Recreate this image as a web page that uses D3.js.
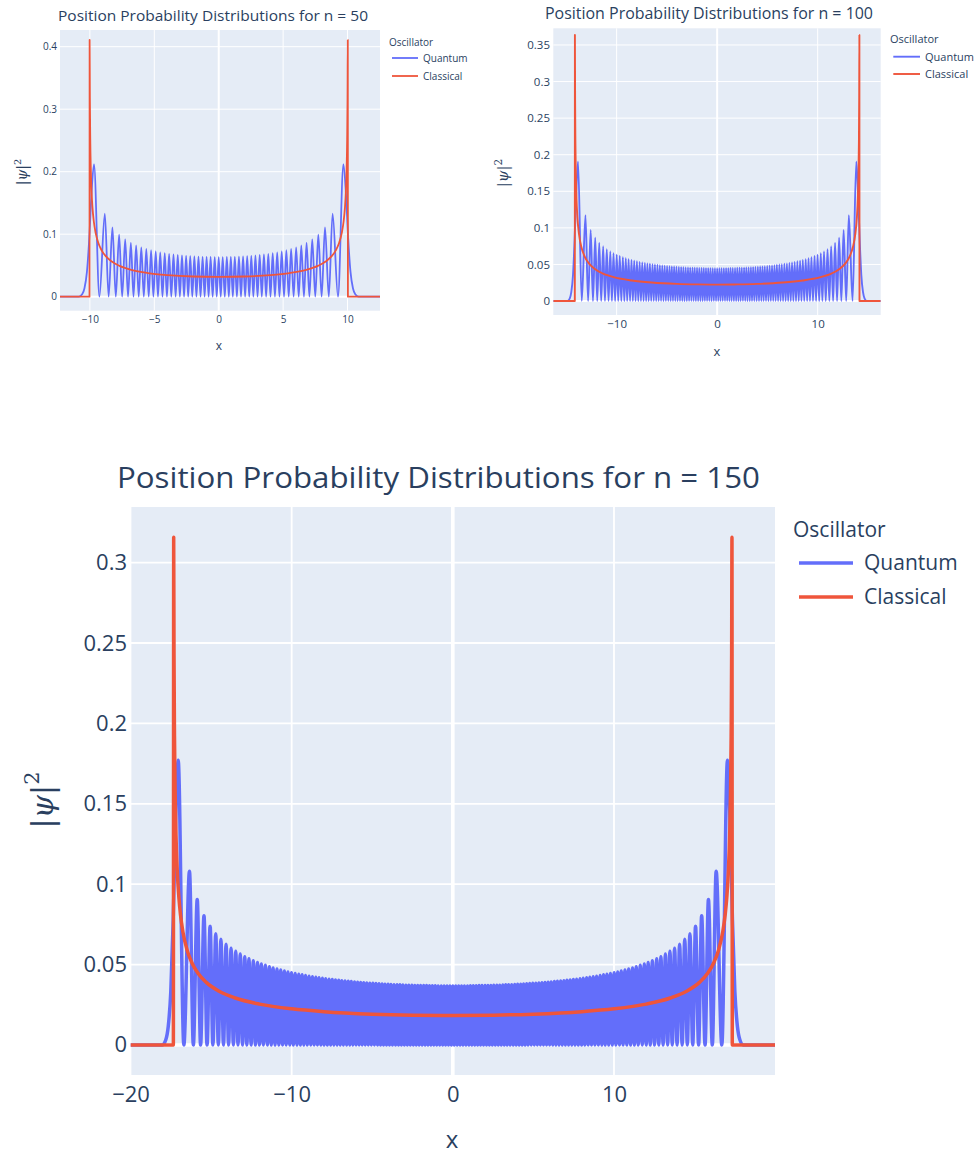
<!DOCTYPE html>
<html><head><meta charset="utf-8">
<script src="https://cdn.jsdelivr.net/npm/d3@7"></script>
<style>
body{margin:0;background:#fff}
svg{display:block}
text{font-family:"Open Sans",sans-serif;fill:#2a3f5f}
</style>
</head><body>
<svg id="chart" width="976" height="1156"></svg>
<script>
// ---------------- DATA ----------------
const seriesNames = ["Quantum", "Classical"];
const legendTitle = "Oscillator";
const titles = ["Position Probability Distributions for n = 50",
                "Position Probability Distributions for n = 100",
                "Position Probability Distributions for n = 150"];

// axis ranges and ticks
const xRange50 = [-12.32, 12.52], yRange50 = [-0.0224, 0.4267];
const xRange100 = [-16.3, 16.27], yRange100 = [-0.0191, 0.3728];
const xRange150 = [-20, 19.99], yRange150 = [-0.0187, 0.3346];
const xTicks50 = [-10, -5, 0, 5, 10];
const yTicks50 = [0, 0.1, 0.2, 0.3, 0.4];
const xTicks100 = [-10, 0, 10];
const yTicks100 = [0, 0.05, 0.1, 0.15, 0.2, 0.25, 0.3, 0.35];
const xTicks150 = [-20, -10, 0, 10];
const yTicks150 = [0, 0.05, 0.1, 0.15, 0.2, 0.25, 0.3];

// Quantum |psi|^2 : peak positions / heights (centre outwards, right half; mirror-symmetric)
const q50PeakX = [0, 0.31, 0.63, 0.94, 1.25, 1.57, 1.89, 2.21, 2.53, 2.85, 3.18, 3.51, 3.85, 4.19, 4.54, 4.89, 5.25, 5.62, 6.01, 6.41, 6.82, 7.26, 7.73, 8.25, 8.84, 9.68];
const q50PeakY = [0.0633, 0.0634, 0.0635, 0.0636, 0.0638, 0.0641, 0.0645, 0.0649, 0.0654, 0.0661, 0.0668, 0.0676, 0.0686, 0.0697, 0.0710, 0.0725, 0.0743, 0.0764, 0.0790, 0.0822, 0.0863, 0.0916, 0.0992, 0.1109, 0.1330, 0.2118];
const q50TailX = [9.87, 10.05, 10.23, 10.42, 10.60, 10.86];
const q50TailY = [0.1669, 0.0929, 0.0396, 0.0135, 0.0038, 0];

const q100PeakX = [0, 0.22, 0.44, 0.67, 0.89, 1.11, 1.33, 1.55, 1.78, 2.00, 2.23, 2.45, 2.68, 2.90, 3.13, 3.36, 3.58, 3.81, 4.05, 4.28, 4.51, 4.74, 4.98, 5.22, 5.46, 5.70, 5.94, 6.19, 6.43, 6.69, 6.94, 7.19, 7.45, 7.71, 7.98, 8.25, 8.52, 8.81, 9.09, 9.38, 9.69, 9.99, 10.31, 10.63, 10.98, 11.34, 11.73, 12.13, 12.58, 13.10, 13.84];
const q100PeakY = [0.0449, 0.0449, 0.0449, 0.0450, 0.0450, 0.0450, 0.0451, 0.0452, 0.0453, 0.0454, 0.0455, 0.0456, 0.0457, 0.0459, 0.0460, 0.0462, 0.0464, 0.0466, 0.0469, 0.0471, 0.0474, 0.0477, 0.0480, 0.0483, 0.0487, 0.0490, 0.0495, 0.0499, 0.0504, 0.0509, 0.0515, 0.0521, 0.0528, 0.0535, 0.0543, 0.0552, 0.0562, 0.0573, 0.0585, 0.0599, 0.0615, 0.0633, 0.0654, 0.0679, 0.0710, 0.0748, 0.0799, 0.0867, 0.0973, 0.1174, 0.1905];
const q100TailX = [14.01, 14.18, 14.34, 14.51, 14.67, 14.90];
const q100TailY = [0.1501, 0.0836, 0.0356, 0.0121, 0.0034, 0];

const q150PeakX = [0, 0.18, 0.36, 0.54, 0.72, 0.91, 1.09, 1.27, 1.45, 1.63, 1.81, 2.00, 2.18, 2.36, 2.54, 2.73, 2.91, 3.10, 3.28, 3.46, 3.65, 3.84, 4.02, 4.21, 4.39, 4.58, 4.77, 4.96, 5.15, 5.34, 5.53, 5.72, 5.91, 6.10, 6.30, 6.49, 6.69, 6.89, 7.08, 7.28, 7.48, 7.68, 7.89, 8.09, 8.30, 8.50, 8.71, 8.92, 9.14, 9.35, 9.56, 9.78, 10.01, 10.23, 10.45, 10.68, 10.91, 11.15, 11.38, 11.63, 11.88, 12.12, 12.38, 12.65, 12.91, 13.19, 13.47, 13.76, 14.07, 14.39, 14.71, 15.06, 15.44, 15.86, 16.34, 17.04];
const q150PeakY = [0.0367, 0.0367, 0.0367, 0.0367, 0.0367, 0.0367, 0.0368, 0.0368, 0.0368, 0.0369, 0.0369, 0.0369, 0.0370, 0.0370, 0.0371, 0.0372, 0.0372, 0.0373, 0.0374, 0.0374, 0.0375, 0.0376, 0.0377, 0.0378, 0.0379, 0.0380, 0.0382, 0.0383, 0.0384, 0.0386, 0.0387, 0.0389, 0.0390, 0.0392, 0.0394, 0.0396, 0.0398, 0.0400, 0.0402, 0.0404, 0.0407, 0.0409, 0.0412, 0.0415, 0.0418, 0.0421, 0.0424, 0.0428, 0.0432, 0.0436, 0.0440, 0.0444, 0.0449, 0.0454, 0.0460, 0.0466, 0.0472, 0.0479, 0.0486, 0.0495, 0.0503, 0.0513, 0.0524, 0.0536, 0.0549, 0.0565, 0.0582, 0.0602, 0.0627, 0.0657, 0.0692, 0.0739, 0.0804, 0.0904, 0.1080, 0.1770];
const q150TailX = [17.20, 17.35, 17.50, 17.66, 17.81, 18.02];
const q150TailY = [0.1395, 0.0777, 0.0331, 0.0113, 0.0032, 0];

// Classical distribution (right half, centre outwards; mirror-symmetric)
const c50X = [0, 2, 4, 5.5, 6.8, 7.7, 8.3, 8.75, 9.1, 9.35, 9.55, 9.7, 9.8, 9.87, 9.93, 9.97, 10.0, 10.02, 10.03];
const c50Y = [0.0317, 0.0323, 0.0345, 0.0378, 0.0430, 0.0493, 0.0562, 0.0644, 0.0746, 0.0864, 0.1017, 0.1211, 0.1429, 0.1682, 0.2057, 0.2517, 0.3183, 0.4107, 0];
const c100X = [0, 2, 4, 6.5, 8.5, 10.2, 11.4, 12.2, 12.8, 13.2, 13.5, 13.75, 13.9, 14.0, 14.06, 14.1, 14.13, 14.15, 14.16];
const c100Y = [0.02245, 0.0227, 0.0234, 0.0253, 0.0281, 0.0323, 0.0378, 0.0441, 0.0522, 0.0615, 0.0735, 0.0921, 0.1140, 0.1424, 0.1748, 0.2151, 0.2747, 0.3637, 0];
const c150X = [0, 2.5, 5, 8, 10, 12, 13.5, 14.5, 15.3, 15.8, 16.2, 16.5, 16.75, 16.9, 17.0, 17.1, 17.18, 17.23, 17.27, 17.30, 17.32, 17.34];
const c150Y = [0.01835, 0.01854, 0.01916, 0.02068, 0.02245, 0.0254, 0.0292, 0.0334, 0.0389, 0.0444, 0.0513, 0.0594, 0.0704, 0.0811, 0.0919, 0.1086, 0.1316, 0.1567, 0.1920, 0.2434, 0.3158, 0];

// ---------------- STYLE / LAYOUT ----------------
const colors = {quantum: "#636efa", classical: "#ef553b", bg: "#e5ecf6", grid: "#ffffff"};

const panels = [
  {id: "a", title: titles[0], xRange: xRange50, yRange: yRange50, xTicks: xTicks50, yTicks: yTicks50,
   q: [q50PeakX, q50PeakY, q50TailX, q50TailY], c: [c50X, c50Y],
   L: {left: 60, right: 380, top: 30, bottom: 310.7, titleX: 58, titleY: 20.5, titleSize: 15, titleLen: 310,
       tick: 10, xPad: 5.7, yPad: 3, yTitleX: 22, yTitleY: 172, yTitleSize: 14, xTitleX: 219, xTitleBase: 350, xTitleSize: 12,
       legX: 389, legY: 42, legSize: 10, legL1: 392, legL2: 418, legRows: [58, 76], legTextX: 423, lw: 1.8, gw: 1}},
  {id: "b", title: titles[1], xRange: xRange100, yRange: yRange100, xTicks: xTicks100, yTicks: yTicks100,
   q: [q100PeakX, q100PeakY, q100TailX, q100TailY], c: [c100X, c100Y],
   L: {left: 553.3, right: 880.7, top: 28.3, bottom: 315, titleX: 545, titleY: 18.5, titleSize: 16, titleLen: 328,
       tick: 11.5, xPad: 5.2, yPad: 3.3, yTitleX: 503, yTitleY: 173, yTitleSize: 15, xTitleX: 717, xTitleBase: 355.5, xTitleSize: 13,
       legX: 890, legY: 39.3, legSize: 11, legL1: 893.3, legL2: 920, legRows: [56.7, 74], legTextX: 925, lw: 1.9, gw: 1}},
  {id: "c", title: titles[2], xRange: xRange150, yRange: yRange150, xTicks: xTicks150, yTicks: yTicks150,
   q: [q150PeakX, q150PeakY, q150TailX, q150TailY], c: [c150X, c150Y],
   L: {left: 130.5, right: 775, top: 507, bottom: 1075, titleX: 117, titleY: 488, titleSize: 30, titleLen: 643,
       tick: 22, xPad: 11, yPad: 3.5, yTitleX: 42, yTitleY: 800, yTitleSize: 30, xTitleX: 452, xTitleBase: 1148, xTitleSize: 24,
       legX: 793, legY: 530, legSize: 21, legL1: 799, legL2: 853, legRows: [563, 597], legTextX: 864, lw: 3.5, gw: 1.8}}
];

// ---------------- BUILD POINTS ----------------
function quantumPoints(peakX, peakY, tailX, tailY, xr) {
  const K = peakX.length - 1;
  const pk = [];
  for (let i = K; i >= 1; i--) pk.push([-peakX[i], peakY[i]]);
  for (let i = 0; i <= K; i++) pk.push([peakX[i], peakY[i]]);
  const pts = [[xr[0], 0]];
  for (let i = tailX.length - 1; i >= 0; i--) pts.push([-tailX[i], tailY[i]]);
  pk.forEach((p, i) => {
    if (i > 0) pts.push([(pk[i - 1][0] + p[0]) / 2, 0]);
    pts.push(p);
  });
  tailX.forEach((t, i) => pts.push([t, tailY[i]]));
  pts.push([xr[1], 0]);
  return pts;
}
function classicalPoints(cx, cy, xr) {
  const pts = [[xr[0], 0]];
  for (let i = cx.length - 1; i >= 1; i--) pts.push([-cx[i], cy[i]]);
  for (let i = 0; i < cx.length; i++) pts.push([cx[i], cy[i]]);
  pts.push([xr[1], 0]);
  return pts;
}

// ---------------- DRAW ----------------
const svg = d3.select("#chart");
svg.append("rect").attr("width", 976).attr("height", 1156).attr("fill", "#fff");
const fmtY = d3.format("~g");
const fmtX = d3.format("d");

function drawPanel(p) {
  const L = p.L;
  const x = d3.scaleLinear().domain(p.xRange).range([L.left, L.right]);
  const y = d3.scaleLinear().domain(p.yRange).range([L.bottom, L.top]);
  const g = svg.append("g");

  g.append("rect").attr("x", L.left).attr("y", L.top)
    .attr("width", L.right - L.left).attr("height", L.bottom - L.top).attr("fill", colors.bg);

  // grid
  g.append("g").selectAll("line").data(p.xTicks).join("line")
    .attr("x1", d => x(d)).attr("x2", d => x(d)).attr("y1", L.top).attr("y2", L.bottom)
    .attr("stroke", colors.grid).attr("stroke-width", d => d === 0 ? L.gw * 2 : L.gw);
  g.append("g").selectAll("line").data(p.yTicks).join("line")
    .attr("x1", L.left).attr("x2", L.right).attr("y1", d => y(d)).attr("y2", d => y(d))
    .attr("stroke", colors.grid).attr("stroke-width", d => d === 0 ? L.gw * 2 : L.gw);

  // axes
  const ax = g.append("g").attr("transform", `translate(0,${L.bottom})`)
    .call(d3.axisBottom(x).tickValues(p.xTicks).tickSize(0).tickPadding(L.xPad).tickFormat(fmtX));
  const ay = g.append("g").attr("transform", `translate(${L.left},0)`)
    .call(d3.axisLeft(y).tickValues(p.yTicks).tickSize(0).tickPadding(L.yPad).tickFormat(fmtY));
  [ax, ay].forEach(a => {
    a.select(".domain").remove();
    a.attr("font-family", null).attr("font-size", null);
    a.selectAll("text").attr("font-size", L.tick).style("fill", "#2a3f5f");
  });

  // data
  const clipId = "clip-" + p.id;
  svg.append("clipPath").attr("id", clipId).append("rect")
    .attr("x", L.left).attr("y", L.top).attr("width", L.right - L.left).attr("height", L.bottom - L.top);
  const line = d3.line().x(d => x(d[0])).y(d => y(d[1])).curve(d3.curveMonotoneX);
  const dg = g.append("g").attr("clip-path", `url(#${clipId})`);
  dg.append("path").attr("d", line(quantumPoints(p.q[0], p.q[1], p.q[2], p.q[3], p.xRange)))
    .attr("fill", "none").attr("stroke", colors.quantum).attr("stroke-width", L.lw).attr("stroke-linejoin", "round");
  dg.append("path").attr("d", line(classicalPoints(p.c[0], p.c[1], p.xRange)))
    .attr("fill", "none").attr("stroke", colors.classical).attr("stroke-width", L.lw).attr("stroke-linejoin", "round");

  // title
  g.append("text").attr("x", L.titleX).attr("y", L.titleY).attr("font-size", L.titleSize)
    .attr("textLength", L.titleLen).attr("lengthAdjust", "spacingAndGlyphs").text(p.title);

  // x axis title
  g.append("text").attr("x", L.xTitleX).attr("y", L.xTitleBase)
    .attr("text-anchor", "middle").attr("font-size", L.xTitleSize).text("x");

  // y axis title |ψ|²
  const yt = g.append("text").attr("transform", `translate(${L.yTitleX},${L.yTitleY}) rotate(-90)`)
    .attr("text-anchor", "middle").attr("dy", "0.35em").attr("font-size", L.yTitleSize)
    .style("font-family", "'DejaVu Serif', serif");
  yt.append("tspan").text("|");
  yt.append("tspan").attr("font-style", "italic").text("ψ");
  yt.append("tspan").text("|");
  yt.append("tspan").attr("font-size", L.yTitleSize * 0.7).attr("dy", -L.yTitleSize * 0.45).text("2");

  // legend
  g.append("text").attr("x", L.legX).attr("y", L.legY).attr("dy", "0.35em").attr("font-size", L.legSize).text(legendTitle);
  const cols = [colors.quantum, colors.classical];
  seriesNames.forEach((name, i) => {
    g.append("line").attr("x1", L.legL1).attr("x2", L.legL2).attr("y1", L.legRows[i]).attr("y2", L.legRows[i])
      .attr("stroke", cols[i]).attr("stroke-width", L.lw);
    g.append("text").attr("x", L.legTextX).attr("y", L.legRows[i]).attr("dy", "0.35em")
      .attr("font-size", L.legSize).text(name);
  });
}
panels.forEach(drawPanel);
</script>
</body></html>
